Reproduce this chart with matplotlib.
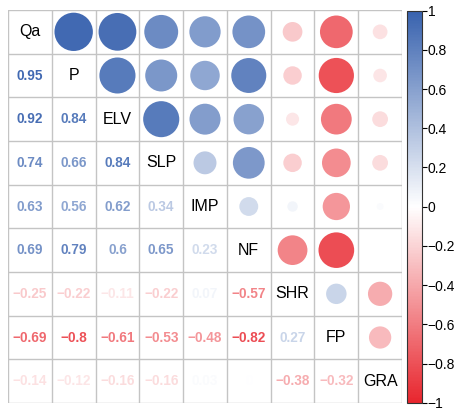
import numpy as np
import matplotlib.pyplot as plt
from matplotlib.patches import Circle
from matplotlib.colors import LinearSegmentedColormap, Normalize
from matplotlib.cm import ScalarMappable

plt.rcParams["font.family"] = ["Liberation Sans", "DejaVu Sans"]

# variables and lower triangle of the correlation matrix
labels = ["Qa", "P", "ELV", "SLP", "IMP", "NF", "SHR", "FP", "GRA"]
r_P = [0.95]
r_ELV = [0.92, 0.84]
r_SLP = [0.74, 0.66, 0.84]
r_IMP = [0.63, 0.56, 0.62, 0.34]
r_NF = [0.69, 0.79, 0.60, 0.65, 0.23]
r_SHR = [-0.25, -0.22, -0.11, -0.22, 0.07, -0.57]
r_FP = [-0.69, -0.80, -0.61, -0.53, -0.48, -0.82, 0.27]
r_GRA = [-0.14, -0.12, -0.16, -0.16, 0.03, 0.00, -0.38, -0.32]
lower = [[], r_P, r_ELV, r_SLP, r_IMP, r_NF, r_SHR, r_FP, r_GRA]

n = len(labels)
corr = np.eye(n)
for i, row in enumerate(lower):
    for j, v in enumerate(row):
        corr[i, j] = v
        corr[j, i] = v

cmap = LinearSegmentedColormap.from_list(
    "rdbu", ["#E8262E", "#FFFFFF", "#3862AE"], N=256)
norm = Normalize(-1, 1)

W, H = 457, 411
fig = plt.figure(figsize=(W / 100, H / 100), dpi=100)
ax = fig.add_axes([8 / W, (H - 403) / H, 394 / W, 393 / H])
ax.set_xlim(0, n)
ax.set_ylim(n, 0)
ax.axis("off")

# grid
for k in range(n + 1):
    ax.plot([k, k], [0, n], color="#C4C4C4", lw=1.0, zorder=1)
    ax.plot([0, n], [k, k], color="#C4C4C4", lw=1.0, zorder=1)


def fmt(v):
    s = f"{round(v, 2):.2f}".rstrip("0").rstrip(".")
    if s in ("-0", ""):
        s = "0"
    return s.replace("-", "\u2212")


for i in range(n):
    for j in range(n):
        v = corr[i, j]
        cx, cy = j + 0.5, i + 0.5
        if i == j:
            ax.text(cx, cy, labels[i], ha="center", va="center",
                    fontsize=11.5, color="black", zorder=3)
        elif i > j:
            ax.text(cx, cy, fmt(v), ha="center", va="center",
                    fontsize=9.8, fontweight="bold", color=cmap(norm(v)),
                    zorder=3)
        else:
            rad = 0.9 * np.sqrt(abs(v)) / 2
            if rad > 0:
                ax.add_patch(Circle((cx, cy), rad, facecolor=cmap(norm(v)),
                                    edgecolor="none", zorder=2))

# colorbar
cax = fig.add_axes([407 / W, (H - 402.7) / H, 15 / W, 392 / H])
cb = fig.colorbar(ScalarMappable(norm=norm, cmap=cmap), cax=cax)
ticks = np.round(np.arange(-1, 1.01, 0.2), 1)
cb.set_ticks(ticks)
cb.set_ticklabels([fmt(t) for t in ticks])
cb.outline.set_linewidth(0.8)
cb.outline.set_edgecolor("#333333")
cax.tick_params(labelsize=10, length=3.5, width=0.8, direction="out", pad=0.5)

fig.savefig("out.png", dpi=100)
